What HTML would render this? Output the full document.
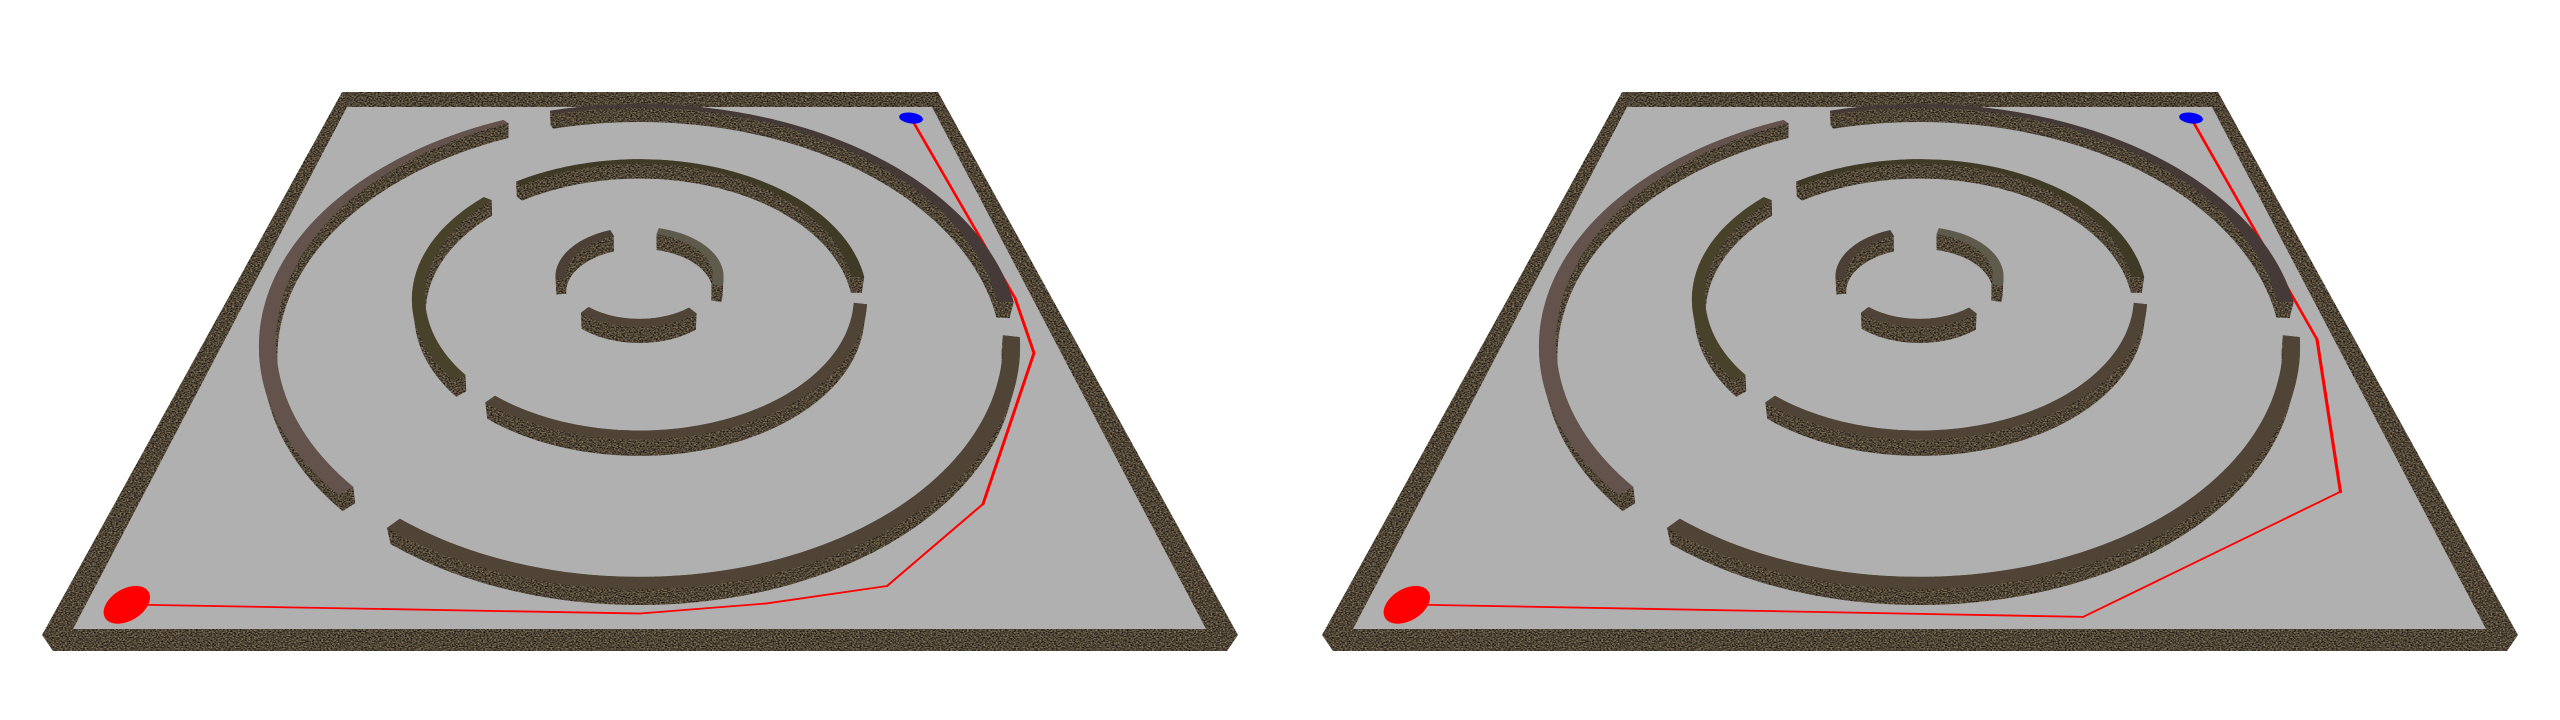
<!DOCTYPE html>
<html lang="en">
<head>
<meta charset="utf-8">
<title>Circular maze path comparison</title>
<style>
html,body{margin:0;padding:0;background:#fff;width:2560px;height:720px;overflow:hidden}
svg{display:block;position:absolute;left:0;top:0}
</style>
</head>
<body>
<svg id="scene" xmlns="http://www.w3.org/2000/svg" width="2560" height="720" viewBox="0 0 2560 720">
  <defs>
    <filter id="grain" x="-5%" y="-5%" width="110%" height="110%" color-interpolation-filters="sRGB">
      <feTurbulence type="fractalNoise" baseFrequency="0.55 0.8" numOctaves="2" seed="7" result="noise"/>
      <feColorMatrix in="noise" type="matrix" values="0.9 0.1 0 0 -0.19  0.8 0.15 0 0 -0.205  0.6 0.1 0.05 0 -0.165  0 0 0 0 1" result="tint"/>
      <feComposite in="tint" in2="SourceAlpha" operator="in"/>
    </filter>
  </defs>
</svg>
<script>
// Ring geometry in floor units (floor half-width = 1)
const ringOuterU = [0.95, 0.5855, 0.2195];
const ringOuterV = [0.95, 0.583, 0.214];
const ringInnerU = [0.91, 0.5525, 0.192];
const ringInnerV = [0.924, 0.557, 0.184];

// Wall arcs: ring index and start/end angles in degrees
const arcRing = [0, 0, 0, 1, 1, 1, 2, 2, 2];
const arcStart = [129.6, 251.5, 15.4, 230.8, 136.4, 12.6, 174.2, 284.2, 49.8];
const arcEnd = [241.7, 367.2, 121.1, 361.5, 219, 125.9, 248.3, 374.6, 131.5];
const arcTone = ['#63534c', '#463a38', '#4f4436', '#3f3a26', '#474229', '#4f4436', '#4b3f36', '#5e5a4c', '#4f4436'];

// Planned routes in floor units
const startU = -0.9611;
const startV = 0.9488;
const goalU = 0.9398;
const goalV = -0.9527;
const markerRadius = 0.04;
const routeLeftU = [startU, 0.0009, 0.2384, 0.4724, 0.7116, 0.9694, 0.99, goalU];
const routeLeftV = [startV, 0.9678, 0.9466, 0.909, 0.7137, 0.251, 0.0364, goalV];
const routeRightU = [startU, 0.3037, 0.8832, 0.9935, goalU];
const routeRightV = [startV, 0.9747, 0.6816, 0.2007, goalV];

const SVG_NS = 'http://www.w3.org/2000/svg';
const CENTER_X = 639.5;
const PANEL_OFFSET = 1280;

// Wall-top plane projection
function topX(u, v) { return CENTER_X + 382 * u / (1 - 0.317 * v); }
function topY(u, v) { return (145.5 * v + 273.5) / (1 - 0.317 * v); }
// Floor plane projection
function baseY(u, v) { return (143 * v + 289.4) / (1 - 0.3128 * v); }
function floorX(u, v) { return CENTER_X + 375 * u / (1 - 0.3128 * v); }
function outerFootX(u, v) { return CENTER_X + 378 * u / (1 - 0.3128 * v); }
function innerFootX(u, v) { return CENTER_X + 381 * u / (1 - 0.3128 * v); }

function topPt(u, v) { return [topX(u, v), topY(u, v)]; }
function floorPt(u, v) { return [floorX(u, v), baseY(u, v)]; }
function outerFootPt(u, v) { return [outerFootX(u, v), baseY(u, v)]; }
function innerFootPt(u, v) { return [innerFootX(u, v), baseY(u, v)]; }

function make(tag, parent) {
  const el = document.createElementNS(SVG_NS, tag);
  parent.appendChild(el);
  return el;
}

function fmt(p) { return p[0].toFixed(2) + ' ' + p[1].toFixed(2); }

function quad(a, b, c, d) {
  const pts = [a, b, c, d];
  let area = 0;
  for (let i = 0; i < 4; i++) {
    const p = pts[i], q = pts[(i + 1) % 4];
    area += p[0] * q[1] - q[0] * p[1];
  }
  if (area < 0) pts.reverse();
  return 'M' + pts.map(fmt).join('L') + 'Z';
}

function arcSamples(i) {
  const r = arcRing[i];
  const steps = Math.max(12, Math.ceil((arcEnd[i] - arcStart[i]) / 1.5));
  const samples = [];
  for (let s = 0; s <= steps; s++) {
    const a = (arcStart[i] + (arcEnd[i] - arcStart[i]) * s / steps) * Math.PI / 180;
    const c = Math.cos(a), n = Math.sin(a);
    samples.push({
      topOuter: topPt(ringOuterU[r] * c, ringOuterV[r] * n),
      topInner: topPt(ringInnerU[r] * c, ringInnerV[r] * n),
      baseOuter: outerFootPt(ringOuterU[r] * c, ringOuterV[r] * n),
      baseInner: innerFootPt(ringInnerU[r] * c, ringInnerV[r] * n)
    });
  }
  return samples;
}

function sidePath(samples) {
  let d = '';
  for (let i = 0; i < samples.length - 1; i++) {
    const p = samples[i], q = samples[i + 1];
    d += quad(p.topOuter, p.baseOuter, q.baseOuter, q.topOuter);
    d += quad(p.topInner, p.baseInner, q.baseInner, q.topInner);
    d += quad(p.baseOuter, p.baseInner, q.baseInner, q.baseOuter);
    d += quad(p.topOuter, p.topInner, q.topInner, q.topOuter);
  }
  const first = samples[0], last = samples[samples.length - 1];
  d += quad(first.topOuter, first.topInner, first.baseInner, first.baseOuter);
  d += quad(last.topOuter, last.topInner, last.baseInner, last.baseOuter);
  return d;
}

function topPath(samples) {
  const outer = samples.map(s => s.topOuter);
  const inner = samples.map(s => s.topInner).reverse();
  return 'M' + outer.concat(inner).map(fmt).join('L') + 'Z';
}

function markerPath(u, v) {
  const pts = [];
  for (let d = 0; d < 360; d += 6) {
    const a = d * Math.PI / 180;
    pts.push(floorPt(u + markerRadius * Math.cos(a), v + markerRadius * Math.sin(a)));
  }
  return 'M' + pts.map(fmt).join('L') + 'Z';
}

function buildPanel(offset, routeU, routeV) {
  const root = document.getElementById('scene');
  const panel = make('g', root);
  
  
  panel.setAttribute('transform', 'translate(' + offset + ' 0)');

  const wall = make('path', panel);
  
  
  wall.setAttribute('d', 'M342 92L938 92L1238 635L1227 651L53 651L42 635Z');
  wall.setAttribute('fill', '#5a5040');
  wall.setAttribute('filter', 'url(#grain)');

  const floor = make('path', panel);
  
  
  floor.setAttribute('d', 'M347 107L932 107L1206 629L73 629Z');
  floor.setAttribute('fill', '#b0b0b0');

  const route = make('g', panel);
  
  
  for (let i = 0; i < routeU.length - 1; i++) {
    const a = floorPt(routeU[i], routeV[i]);
    const b = floorPt(routeU[i + 1], routeV[i + 1]);
    const steep = Math.abs(b[1] - a[1]) / Math.hypot(b[0] - a[0], b[1] - a[1]);
    const seg = make('line', route);
    
    
    seg.setAttribute('x1', a[0]);
    seg.setAttribute('y1', a[1]);
    seg.setAttribute('x2', b[0]);
    seg.setAttribute('y2', b[1]);
    seg.setAttribute('stroke', '#ff0000');
    seg.setAttribute('stroke-linecap', 'round');
    seg.setAttribute('stroke-width', (1.8 + 1.4 * Math.pow(steep, 4)).toFixed(2));
  }

  const start = make('path', panel);
  
  
  start.setAttribute('d', markerPath(startU, startV));
  start.setAttribute('fill', '#ff0000');

  const goal = make('path', panel);
  
  
  goal.setAttribute('d', markerPath(goalU, goalV));
  goal.setAttribute('fill', '#0000ff');

  const sides = make('g', panel);
  
  
  sides.setAttribute('filter', 'url(#grain)');
  const tops = make('g', panel);
  
  

  for (let i = 0; i < arcRing.length; i++) {
    const samples = arcSamples(i);
    const side = make('path', sides);
    
    
    side.setAttribute('d', sidePath(samples));
    side.setAttribute('fill', '#5a5040');
    const top = make('path', tops);
    
    
    top.setAttribute('d', topPath(samples));
    top.setAttribute('fill', arcTone[i]);
  }
}

buildPanel(0, routeLeftU, routeLeftV);
buildPanel(PANEL_OFFSET, routeRightU, routeRightV);
</script>
</body>
</html>
